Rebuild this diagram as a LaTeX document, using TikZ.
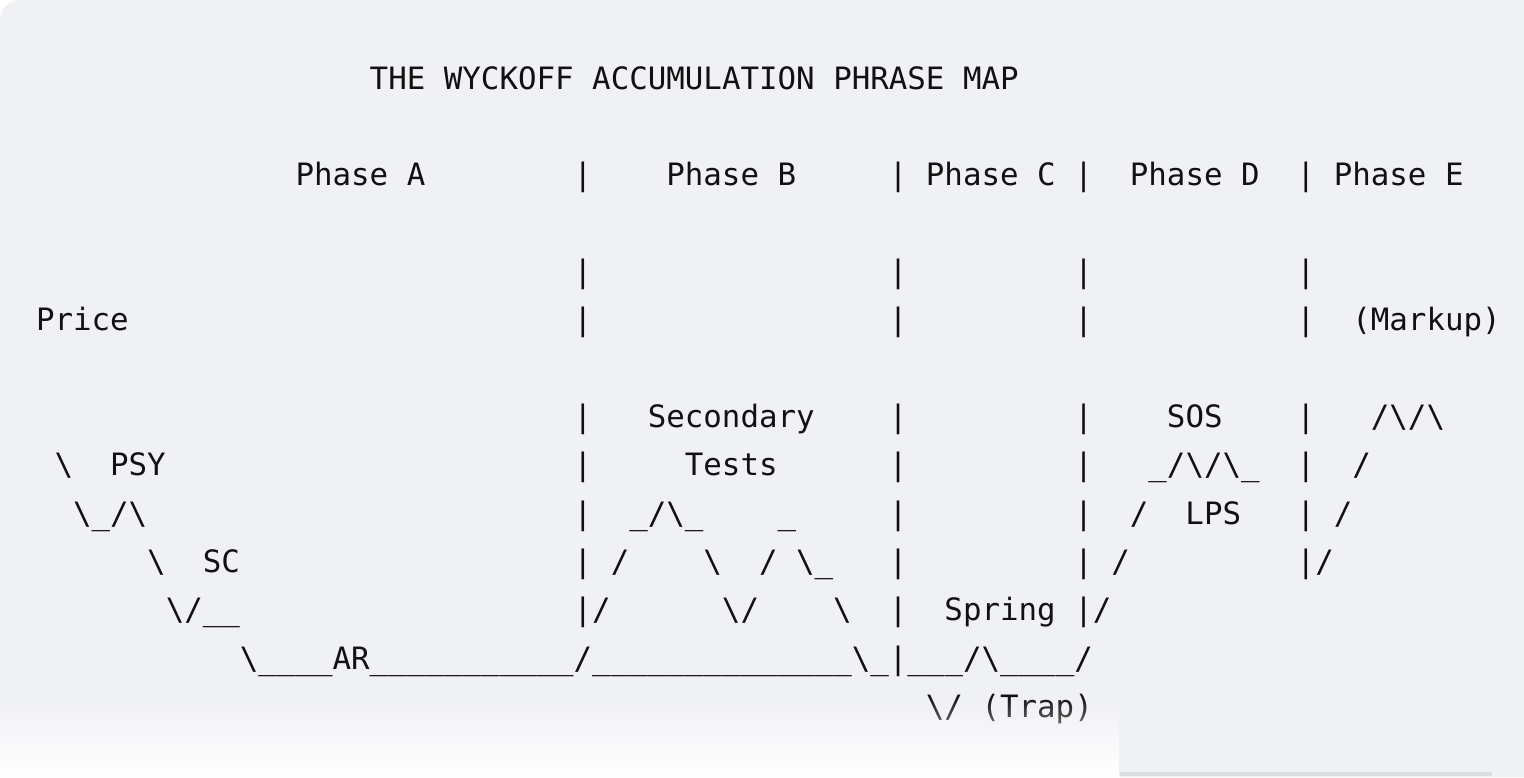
\documentclass[tikz,border=0pt]{standalone}
\usepackage{fontspec}
\setmonofont{DejaVu Sans Mono}
\usetikzlibrary{fadings}
\definecolor{bgpanel}{HTML}{F0F1F5}
\definecolor{inkc}{HTML}{111111}
\definecolor{edgeline}{HTML}{DCDDE3}
\tikzfading[name=fadedown, top color=transparent!100, bottom color=transparent!0]
\newcommand\bsl{\textbackslash}
\tikzset{
  asc/.style={anchor=base west, inner sep=0pt, outer sep=0pt, text=inkc,
    font=\ttfamily\fontsize{15.4pt}{18pt}\selectfont},
}
% column, row, text
\newcommand\asc[3]{\node[asc] (r#2c#1) at ({36+#1*18.54},{89+#2*48.35}) {#3};}
\begin{document}
\begin{tikzpicture}[x=0.5pt,y=-0.5pt]
\useasboundingbox (0,0) rectangle (1524,777);
\fill[white] (0,0) rectangle (1524,777);
\fill[bgpanel] (0,777) [rounded corners=10pt] -- (0,0) [sharp corners] -- (1524,0) -- (1524,777) -- cycle;
% row 0
\asc{18}{0}{THE WYCKOFF ACCUMULATION PHRASE MAP}
% row 2
\asc{14}{2}{Phase A}
\asc{29}{2}{|}
\asc{34}{2}{Phase B}
\asc{46}{2}{|}
\asc{48}{2}{Phase C}
\asc{56}{2}{|}
\asc{59}{2}{Phase D}
\asc{68}{2}{|}
\asc{70}{2}{Phase E}
% row 4
\asc{29}{4}{|}
\asc{46}{4}{|}
\asc{56}{4}{|}
\asc{68}{4}{|}
% row 5
\asc{0}{5}{Price}
\asc{29}{5}{|}
\asc{46}{5}{|}
\asc{56}{5}{|}
\asc{68}{5}{|}
\asc{71}{5}{(Markup)}
% row 7
\asc{29}{7}{|}
\asc{33}{7}{Secondary}
\asc{46}{7}{|}
\asc{56}{7}{|}
\asc{61}{7}{SOS}
\asc{68}{7}{|}
\asc{72}{7}{/\bsl/\bsl}
% row 8
\asc{1}{8}{\bsl}
\asc{4}{8}{PSY}
\asc{29}{8}{|}
\asc{35}{8}{Tests}
\asc{46}{8}{|}
\asc{56}{8}{|}
\asc{60}{8}{\_/\bsl/\bsl\_}
\asc{68}{8}{|}
\asc{71}{8}{/}
% row 9
\asc{2}{9}{\bsl\_/\bsl}
\asc{29}{9}{|}
\asc{32}{9}{\_/\bsl\_}
\asc{40}{9}{\_}
\asc{46}{9}{|}
\asc{56}{9}{|}
\asc{59}{9}{/}
\asc{62}{9}{LPS}
\asc{68}{9}{|}
\asc{70}{9}{/}
% row 10
\asc{6}{10}{\bsl}
\asc{9}{10}{SC}
\asc{29}{10}{|}
\asc{31}{10}{/}
\asc{36}{10}{\bsl}
\asc{39}{10}{/}
\asc{41}{10}{\bsl\_}
\asc{46}{10}{|}
\asc{56}{10}{|}
\asc{58}{10}{/}
\asc{68}{10}{|/}
% row 11
\asc{7}{11}{\bsl/\_\_}
\asc{29}{11}{|/}
\asc{37}{11}{\bsl/}
\asc{43}{11}{\bsl}
\asc{46}{11}{|}
\asc{49}{11}{Spring}
\asc{56}{11}{|/}
% row 12
\asc{11}{12}{\bsl\_\_\_\_AR\_\_\_\_\_\_\_\_\_\_\_/\_\_\_\_\_\_\_\_\_\_\_\_\_\_\bsl\_|\_\_\_/\bsl\_\_\_\_/}
% row 13
\asc{48}{13}{\bsl/}
\asc{51}{13}{(Trap)}
% bottom fade and edge
\fill[white, path fading=fadedown] (0,696) rectangle (1120,777);
\fill[edgeline] (1120,772) rectangle (1492,776);
\end{tikzpicture}
\end{document}
